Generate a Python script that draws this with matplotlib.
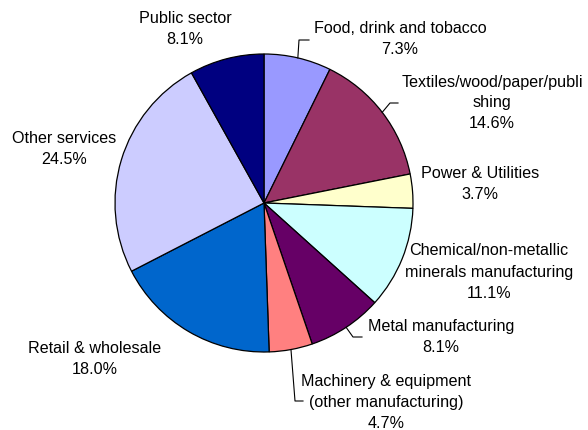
import numpy as np
import matplotlib.pyplot as plt

plt.rcParams['font.family'] = ['Liberation Sans', 'DejaVu Sans']

# employment share by sector
sectors = ["Food, drink and tobacco",
           "Textiles/wood/paper/publi\nshing",
           "Power & Utilities",
           "Chemical/non-metallic\nminerals manufacturing",
           "Metal manufacturing",
           "Machinery & equipment\n(other manufacturing)",
           "Retail & wholesale",
           "Other services",
           "Public sector"]
shares = [7.3, 14.6, 3.7, 11.1, 8.1, 4.7, 18.0, 24.5, 8.1]
colors = ["#9999FF", "#993366", "#FFFFCC", "#CCFFFF", "#660066",
          "#FF8080", "#0066CC", "#CCCCFF", "#000080"]

W, H = 588, 431
cx, cy, r = 264, 204, 149

# label block centres (pixels from top-left)
label_pos = [(400, 39), (492, 103), (480, 184), (489, 272), (441, 337),
             (386, 403), (95, 359), (64, 149), (185, 29)]
# leader line bends for the labels that sit away from their slice
leaders = {0: [(299, 41), (309, 41)],
           1: [(390, 104), (398, 104)],
           4: [(353, 338), (362, 338)],
           5: [(295, 402), (303, 402)]}

fig = plt.figure(figsize=(W / 100, H / 100), dpi=100)
ax = fig.add_axes([0, 0, 1, 1])

wedges, _ = ax.pie(shares, colors=colors, startangle=90, counterclock=False,
                   center=(cx, H - cy), radius=r,
                   wedgeprops=dict(edgecolor='black', linewidth=0.9))
ax.set_xlim(0, W)
ax.set_ylim(0, H)
ax.set_aspect('equal')
ax.axis('off')

for i, (name, val) in enumerate(zip(sectors, shares)):
    x, y = label_pos[i]
    ax.text(x, H - y, f"{name}\n{val:.1f}%", ha='center', va='center',
            fontsize=11.6, linespacing=1.5, color='black')
    if i in leaders:
        w = wedges[i]
        mid = np.deg2rad((w.theta1 + w.theta2) / 2)
        px = [cx + r * np.cos(mid)] + [p[0] for p in leaders[i]]
        py = [H - cy + r * np.sin(mid)] + [H - p[1] for p in leaders[i]]
        ax.plot(px, py, color='black', linewidth=0.8)

fig.savefig("out.png", dpi=100)
